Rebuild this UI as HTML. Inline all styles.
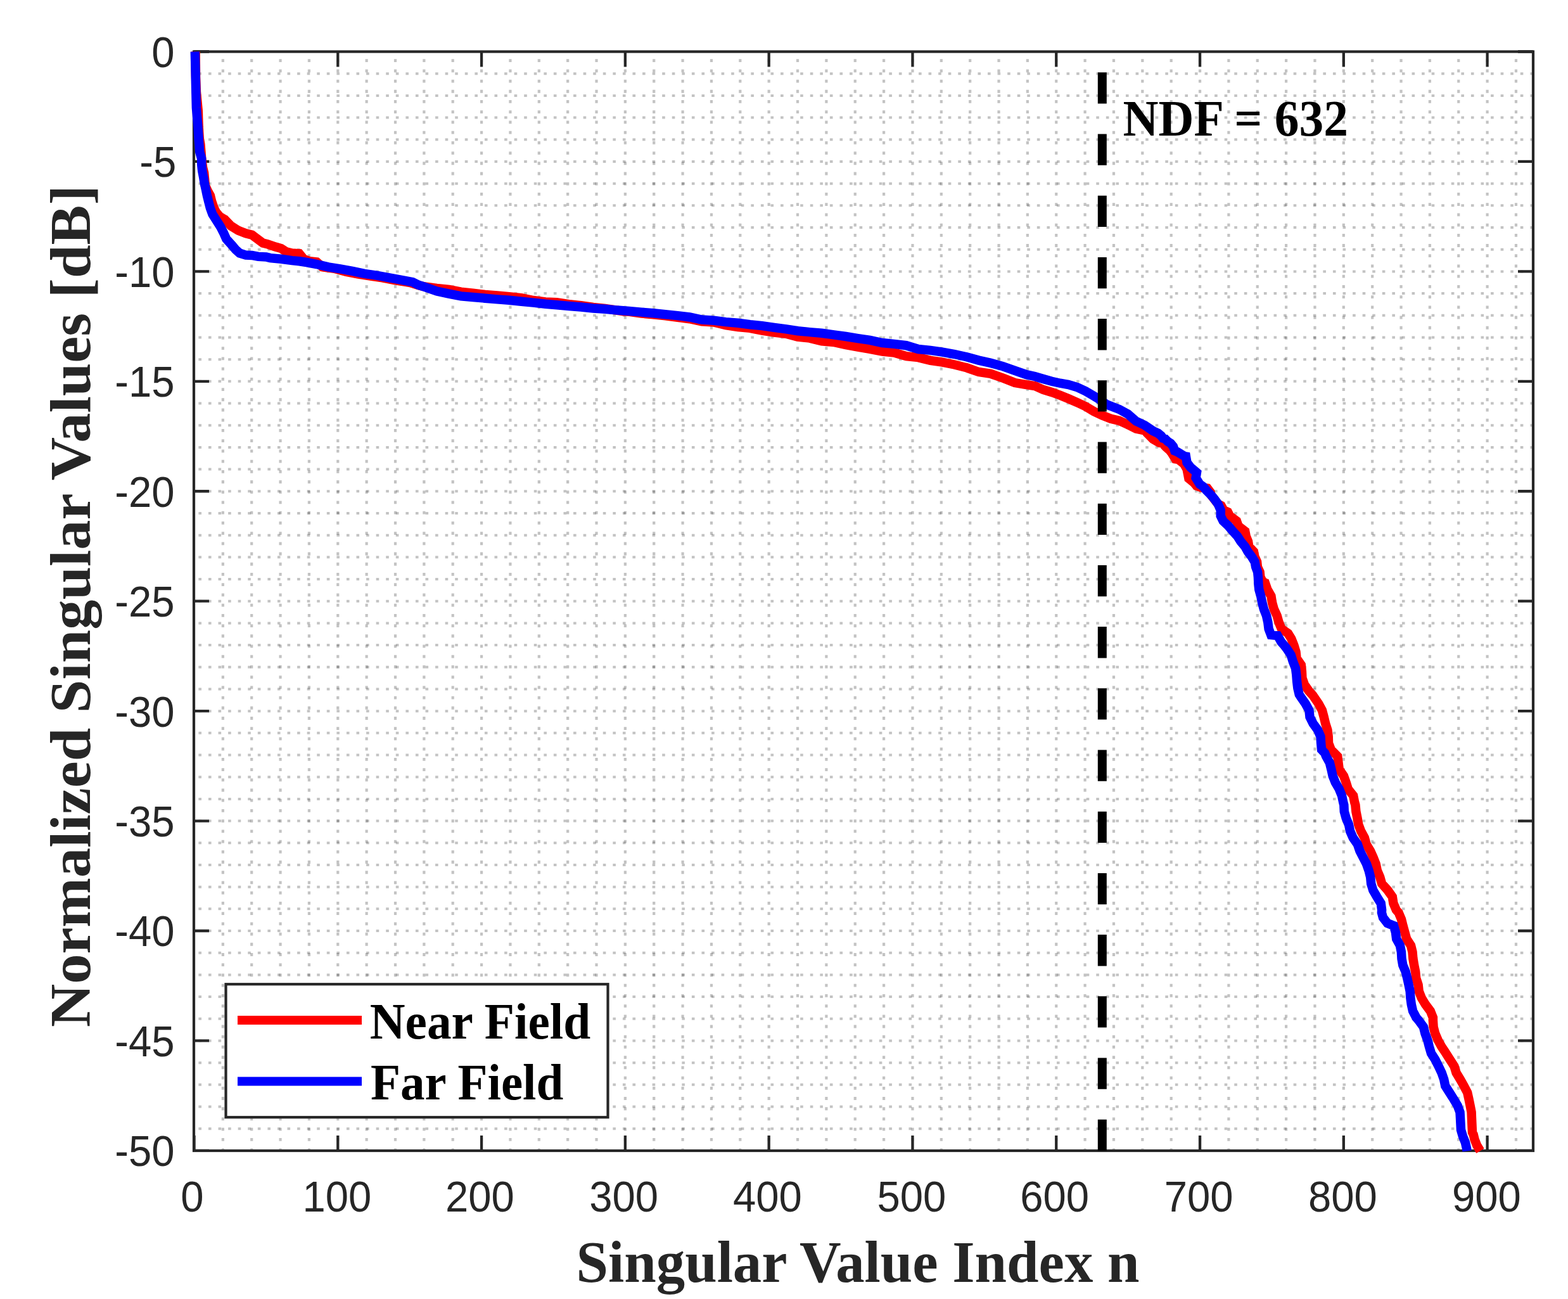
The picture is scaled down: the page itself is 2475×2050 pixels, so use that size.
<!DOCTYPE html>
<html><head><meta charset="utf-8"><title>Singular values</title>
<style>html,body{margin:0;padding:0;background:#fff;}svg{display:block;}</style>
</head><body>
<svg width="2475" height="2050" viewBox="0 0 2475 2050">
<rect x="0" y="0" width="2475" height="2050" fill="#fff"/>
<path d="M351.86 1816.0V81.5M397.22 1816.0V81.5M442.57 1816.0V81.5M487.93 1816.0V81.5M533.29 1816.0V81.5M578.65 1816.0V81.5M624.01 1816.0V81.5M669.36 1816.0V81.5M714.72 1816.0V81.5M760.08 1816.0V81.5M805.44 1816.0V81.5M850.80 1816.0V81.5M896.15 1816.0V81.5M941.51 1816.0V81.5M986.87 1816.0V81.5M1032.23 1816.0V81.5M1077.59 1816.0V81.5M1122.94 1816.0V81.5M1168.30 1816.0V81.5M1213.66 1816.0V81.5M1259.02 1816.0V81.5M1304.38 1816.0V81.5M1349.73 1816.0V81.5M1395.09 1816.0V81.5M1440.45 1816.0V81.5M1485.81 1816.0V81.5M1531.17 1816.0V81.5M1576.52 1816.0V81.5M1621.88 1816.0V81.5M1667.24 1816.0V81.5M1712.60 1816.0V81.5M1757.96 1816.0V81.5M1803.31 1816.0V81.5M1848.67 1816.0V81.5M1894.03 1816.0V81.5M1939.39 1816.0V81.5M1984.75 1816.0V81.5M2030.10 1816.0V81.5M2075.46 1816.0V81.5M2120.82 1816.0V81.5M2166.18 1816.0V81.5M2211.54 1816.0V81.5M2256.89 1816.0V81.5M2302.25 1816.0V81.5M2347.61 1816.0V81.5M2392.97 1816.0V81.5" stroke="rgba(38,38,38,0.28)" stroke-width="4.2" stroke-dasharray="4.8 11.417" stroke-dashoffset="1.0" fill="none"/>
<path d="M306.0 116.19H2420.0M306.0 150.88H2420.0M306.0 185.56H2420.0M306.0 220.25H2420.0M306.0 254.94H2420.0M306.0 289.63H2420.0M306.0 324.32H2420.0M306.0 359.00H2420.0M306.0 393.69H2420.0M306.0 428.38H2420.0M306.0 463.07H2420.0M306.0 497.76H2420.0M306.0 532.44H2420.0M306.0 567.13H2420.0M306.0 601.82H2420.0M306.0 636.51H2420.0M306.0 671.20H2420.0M306.0 705.88H2420.0M306.0 740.57H2420.0M306.0 775.26H2420.0M306.0 809.95H2420.0M306.0 844.64H2420.0M306.0 879.32H2420.0M306.0 914.01H2420.0M306.0 948.70H2420.0M306.0 983.39H2420.0M306.0 1018.08H2420.0M306.0 1052.76H2420.0M306.0 1087.45H2420.0M306.0 1122.14H2420.0M306.0 1156.83H2420.0M306.0 1191.52H2420.0M306.0 1226.20H2420.0M306.0 1260.89H2420.0M306.0 1295.58H2420.0M306.0 1330.27H2420.0M306.0 1364.96H2420.0M306.0 1399.64H2420.0M306.0 1434.33H2420.0M306.0 1469.02H2420.0M306.0 1503.71H2420.0M306.0 1538.40H2420.0M306.0 1573.08H2420.0M306.0 1607.77H2420.0M306.0 1642.46H2420.0M306.0 1677.15H2420.0M306.0 1711.84H2420.0M306.0 1746.52H2420.0M306.0 1781.21H2420.0" stroke="rgba(38,38,38,0.28)" stroke-width="4.0" stroke-dasharray="4.6 10.97" stroke-dashoffset="8.17" fill="none"/>
<rect x="306.0" y="81.5" width="2114.0" height="1734.5" fill="none" stroke="#262626" stroke-width="4.2"/>
<path d="M306.50 1816.0V1792.0M306.50 81.5V105.5M533.29 1816.0V1792.0M533.29 81.5V105.5M760.08 1816.0V1792.0M760.08 81.5V105.5M986.87 1816.0V1792.0M986.87 81.5V105.5M1213.66 1816.0V1792.0M1213.66 81.5V105.5M1440.45 1816.0V1792.0M1440.45 81.5V105.5M1667.24 1816.0V1792.0M1667.24 81.5V105.5M1894.03 1816.0V1792.0M1894.03 81.5V105.5M2120.82 1816.0V1792.0M2120.82 81.5V105.5M2347.61 1816.0V1792.0M2347.61 81.5V105.5M306.0 81.50H330.0M2420.0 81.50H2396.0M306.0 254.94H330.0M2420.0 254.94H2396.0M306.0 428.38H330.0M2420.0 428.38H2396.0M306.0 601.82H330.0M2420.0 601.82H2396.0M306.0 775.26H330.0M2420.0 775.26H2396.0M306.0 948.70H330.0M2420.0 948.70H2396.0M306.0 1122.14H330.0M2420.0 1122.14H2396.0M306.0 1295.58H330.0M2420.0 1295.58H2396.0M306.0 1469.02H330.0M2420.0 1469.02H2396.0M306.0 1642.46H330.0M2420.0 1642.46H2396.0M306.0 1815.90H330.0M2420.0 1815.90H2396.0" stroke="#262626" stroke-width="4.3" fill="none"/>
<path d="M308.6 81.5 L309.0 120.0 L309.9 145.0 L312.8 175.0 L313.6 200.0 L314.8 219.0 L316.4 228.0 L317.4 240.0 L318.2 250.0 L320.1 264.7 L322.1 272.5 L324.0 293.0 L327.5 300.8 L331.9 308.6 L334.3 318.4 L337.7 328.2 L341.1 335.0 L347.0 342.0 L354.7 346.3 L364.5 356.5 L376.2 363.8 L388.0 368.2 L397.7 370.7 L407.5 378.0 L415.0 383.5 L421.9 385.2 L431.1 388.3 L435.7 389.8 L443.8 392.1 L451.8 397.3 L461.0 399.6 L472.5 400.2 L479.4 408.8 L488.6 412.3 L500.0 413.4 L508.6 421.2 L527.6 423.7 L546.7 428.9 L565.7 432.7 L584.8 435.5 L603.8 438.4 L622.9 442.2 L641.9 445.0 L647.6 446.0 L661.0 450.2 L670.5 452.5 L689.5 455.0 L708.6 456.9 L727.6 460.7 L746.7 462.6 L765.7 465.0 L784.8 466.4 L803.8 468.3 L822.9 470.2 L841.9 474.0 L861.0 476.5 L879.0 477.3 L898.1 480.2 L917.1 482.1 L936.2 485.0 L955.2 486.9 L983.8 491.2 L993.3 491.8 L1012.4 494.5 L1031.4 496.4 L1050.5 498.3 L1069.5 500.8 L1088.6 503.2 L1107.6 507.4 L1126.7 508.4 L1145.7 513.1 L1164.8 516.0 L1183.8 517.9 L1202.9 521.7 L1221.9 524.6 L1241.0 526.8 L1259.0 531.7 L1278.1 533.6 L1297.1 538.4 L1316.2 539.9 L1335.2 544.1 L1354.3 547.5 L1373.3 550.8 L1392.4 554.6 L1411.4 556.5 L1430.5 562.2 L1449.5 564.1 L1468.6 568.9 L1487.6 571.7 L1506.7 575.5 L1525.7 580.3 L1544.8 587.0 L1563.8 589.8 L1582.9 596.5 L1601.9 604.1 L1620.0 607.2 L1633.3 609.0 L1646.7 615.0 L1660.0 619.0 L1673.3 623.7 L1686.7 629.3 L1700.0 635.0 L1713.3 641.3 L1726.7 649.3 L1740.0 655.6 L1753.3 660.7 L1766.7 664.0 L1780.0 670.0 L1793.3 676.7 L1806.7 679.5 L1820.0 693.0 L1829.7 698.6 L1834.9 699.5 L1840.5 705.6 L1846.1 710.4 L1849.3 714.4 L1855.4 724.4 L1860.3 725.2 L1867.0 730.5 L1869.4 732.9 L1873.5 740.2 L1876.4 755.0 L1879.9 757.9 L1884.7 761.9 L1888.8 766.8 L1896.5 769.5 L1905.8 770.6 L1910.7 777.1 L1911.5 781.1 L1922.7 795.6 L1927.6 798.0 L1931.6 805.2 L1938.0 808.0 L1941.1 814.2 L1951.9 822.2 L1954.7 830.3 L1965.2 838.3 L1966.8 846.4 L1970.0 854.4 L1971.3 862.5 L1978.9 870.5 L1980.5 878.6 L1984.1 886.6 L1984.9 894.7 L1988.6 902.7 L1989.4 910.8 L1993.4 918.8 L1996.9 920.0 L2000.5 930.3 L2006.4 940.7 L2008.0 951.0 L2010.9 961.4 L2015.7 971.7 L2018.6 982.1 L2022.8 992.4 L2033.1 999.7 L2038.3 1008.0 L2042.4 1018.3 L2045.5 1028.6 L2046.6 1039.0 L2053.8 1049.3 L2054.9 1059.7 L2055.4 1070.0 L2059.0 1080.4 L2066.2 1090.7 L2072.0 1097.0 L2081.4 1110.7 L2086.9 1121.0 L2089.7 1131.4 L2092.1 1141.7 L2095.4 1152.1 L2096.7 1162.4 L2097.0 1172.8 L2100.9 1183.1 L2111.2 1193.5 L2112.5 1203.8 L2113.8 1214.2 L2121.0 1224.5 L2124.7 1234.9 L2127.8 1245.2 L2136.1 1255.6 L2138.1 1265.9 L2139.4 1270.3 L2140.4 1280.7 L2142.5 1291.0 L2144.3 1301.4 L2148.2 1311.7 L2153.8 1322.1 L2156.7 1332.4 L2163.0 1342.8 L2167.6 1353.1 L2171.7 1363.5 L2173.8 1373.8 L2178.2 1384.2 L2181.1 1394.5 L2190.4 1404.9 L2197.8 1415.2 L2199.4 1425.6 L2203.8 1435.9 L2207.6 1440.3 L2212.0 1450.7 L2214.5 1461.0 L2217.4 1471.4 L2220.2 1481.7 L2227.0 1492.1 L2229.5 1502.4 L2230.4 1512.8 L2232.1 1523.1 L2234.2 1533.5 L2235.2 1543.8 L2238.6 1554.2 L2239.7 1564.5 L2243.8 1574.9 L2250.0 1585.2 L2257.8 1595.6 L2261.9 1605.9 L2261.9 1610.3 L2262.6 1620.7 L2265.2 1631.0 L2269.7 1641.4 L2275.4 1651.7 L2282.3 1662.1 L2288.8 1672.4 L2295.5 1682.8 L2298.6 1693.1 L2304.9 1703.5 L2310.7 1713.8 L2316.2 1724.2 L2318.5 1734.5 L2320.6 1744.9 L2322.6 1755.2 L2322.9 1763.0 L2324.0 1787.0 L2325.7 1790.5 L2327.5 1798.0 L2331.2 1807.6 L2336.5 1816.2" stroke="#f00" stroke-width="14.5" fill="none" stroke-linejoin="miter" stroke-linecap="butt"/>
<path d="M307.8 81.5 L308.3 100.0 L308.8 125.0 L309.9 170.0 L312.4 200.0 L313.8 221.0 L315.3 240.0 L318.1 250.0 L318.2 259.8 L319.2 269.5 L321.1 279.3 L322.7 289.1 L324.9 298.9 L326.9 308.6 L329.3 318.4 L331.8 328.2 L335.4 338.0 L341.5 347.7 L347.8 357.5 L352.9 367.3 L357.2 377.0 L366.0 386.8 L372.0 394.0 L378.2 399.5 L388.0 402.6 L397.7 402.9 L407.5 404.9 L420.0 405.4 L426.5 407.1 L443.8 408.8 L461.0 411.1 L472.5 412.3 L484.0 414.0 L500.0 417.0 L518.1 421.4 L537.1 424.3 L556.2 427.8 L575.2 431.9 L594.3 434.6 L613.3 438.1 L632.4 441.6 L651.4 445.2 L661.0 449.9 L670.5 452.9 L689.5 459.5 L708.6 463.6 L727.6 467.4 L746.7 469.0 L765.7 470.7 L784.8 472.4 L803.8 473.8 L822.9 475.7 L841.9 477.6 L861.0 479.7 L879.0 481.2 L898.1 483.0 L917.1 484.5 L936.2 486.4 L955.2 487.7 L974.3 489.6 L993.3 491.0 L1012.4 492.6 L1031.4 494.3 L1050.5 496.2 L1069.5 498.1 L1088.6 500.5 L1107.6 504.6 L1126.7 505.7 L1145.7 508.1 L1164.8 509.7 L1183.8 512.2 L1202.9 514.1 L1221.9 516.9 L1241.0 519.4 L1259.0 522.2 L1278.1 524.1 L1297.1 525.7 L1316.2 528.4 L1335.2 531.0 L1354.3 534.1 L1373.3 536.9 L1392.4 541.0 L1411.4 542.9 L1430.5 545.2 L1449.5 551.0 L1468.6 552.9 L1487.6 555.7 L1506.7 559.0 L1525.7 563.3 L1544.8 568.6 L1563.8 572.9 L1582.9 578.1 L1601.9 584.8 L1620.0 591.2 L1633.3 594.0 L1646.7 598.0 L1660.0 601.7 L1673.3 604.7 L1686.7 607.0 L1700.0 611.0 L1713.3 617.3 L1726.7 625.0 L1733.3 629.0 L1746.7 638.3 L1766.7 646.0 L1780.0 653.3 L1793.3 664.7 L1806.7 671.0 L1820.0 680.1 L1828.0 683.8 L1832.9 687.8 L1835.8 691.7 L1839.0 692.5 L1843.0 696.6 L1847.9 699.8 L1851.9 704.6 L1854.2 711.4 L1858.2 713.0 L1864.7 717.0 L1870.3 720.2 L1871.9 720.4 L1873.5 730.0 L1879.3 737.6 L1884.1 741.6 L1888.9 745.7 L1887.6 754.2 L1893.8 764.2 L1899.4 768.2 L1904.2 773.8 L1911.5 781.1 L1916.6 787.2 L1922.7 795.6 L1926.8 805.2 L1926.7 814.2 L1930.6 822.2 L1939.2 830.3 L1945.9 838.3 L1953.3 846.4 L1958.4 854.4 L1965.2 862.5 L1969.6 870.5 L1975.8 878.6 L1980.7 886.6 L1982.1 894.7 L1985.1 902.7 L1985.9 910.8 L1986.3 918.8 L1986.2 920.0 L1987.3 930.3 L1990.2 940.7 L1992.2 951.0 L1995.0 961.4 L1999.0 971.7 L2001.3 982.1 L2002.6 992.4 L2006.2 1002.0 L2016.6 1003.0 L2022.3 1013.1 L2026.9 1018.3 L2031.0 1023.5 L2037.8 1033.8 L2040.9 1044.2 L2045.0 1054.5 L2046.3 1064.9 L2047.1 1075.2 L2048.3 1085.6 L2050.7 1095.9 L2053.5 1100.3 L2060.7 1110.7 L2066.4 1121.0 L2067.5 1131.4 L2072.6 1141.7 L2080.2 1152.1 L2084.5 1162.4 L2085.1 1172.8 L2086.1 1183.1 L2091.0 1188.3 L2093.1 1193.5 L2098.8 1203.8 L2101.4 1214.2 L2103.7 1224.5 L2107.8 1234.9 L2113.8 1245.2 L2118.0 1255.6 L2120.2 1265.9 L2121.3 1270.3 L2121.8 1280.7 L2124.7 1291.0 L2129.0 1301.4 L2131.1 1311.7 L2135.7 1322.1 L2142.8 1332.4 L2146.4 1342.8 L2151.6 1353.1 L2157.0 1363.5 L2160.6 1373.8 L2163.2 1384.2 L2164.2 1394.5 L2167.3 1404.9 L2173.3 1415.2 L2179.7 1425.6 L2181.1 1435.9 L2180.9 1440.3 L2183.0 1448.0 L2190.0 1457.0 L2200.0 1461.0 L2202.9 1471.4 L2204.2 1481.7 L2209.9 1492.1 L2211.9 1502.4 L2212.5 1512.8 L2214.3 1523.1 L2218.7 1533.5 L2221.3 1543.8 L2223.6 1554.2 L2225.7 1564.5 L2226.4 1574.9 L2227.8 1585.2 L2230.1 1595.6 L2235.5 1605.9 L2239.3 1610.3 L2246.9 1620.7 L2249.5 1631.0 L2253.3 1641.4 L2255.9 1651.7 L2259.0 1662.1 L2265.5 1672.4 L2270.7 1682.8 L2275.6 1693.1 L2279.2 1703.5 L2281.3 1713.8 L2288.0 1724.2 L2294.5 1734.5 L2300.7 1744.9 L2304.5 1755.2 L2305.0 1764.0 L2306.0 1783.0 L2309.0 1793.3 L2312.9 1802.9 L2315.0 1812.4 L2315.6 1816.5" stroke="#00f" stroke-width="14.5" fill="none" stroke-linejoin="miter" stroke-linecap="butt"/>

<path d="M1739.81 1816.0V81.5" stroke="#000" stroke-width="14" stroke-dasharray="49.3 47.9" fill="none"/>
<text transform="translate(303.30,1911.5) scale(1,1.062)" text-anchor="middle" style="font-family:'Liberation Sans',Arial,sans-serif;font-size:65.2px" fill="#262626">0</text>
<text transform="translate(531.99,1911.5) scale(1,1.062)" text-anchor="middle" style="font-family:'Liberation Sans',Arial,sans-serif;font-size:65.2px" fill="#262626">100</text>
<text transform="translate(757.38,1911.5) scale(1,1.062)" text-anchor="middle" style="font-family:'Liberation Sans',Arial,sans-serif;font-size:65.2px" fill="#262626">200</text>
<text transform="translate(984.57,1911.5) scale(1,1.062)" text-anchor="middle" style="font-family:'Liberation Sans',Arial,sans-serif;font-size:65.2px" fill="#262626">300</text>
<text transform="translate(1211.46,1911.5) scale(1,1.062)" text-anchor="middle" style="font-family:'Liberation Sans',Arial,sans-serif;font-size:65.2px" fill="#262626">400</text>
<text transform="translate(1438.85,1911.5) scale(1,1.062)" text-anchor="middle" style="font-family:'Liberation Sans',Arial,sans-serif;font-size:65.2px" fill="#262626">500</text>
<text transform="translate(1664.64,1911.5) scale(1,1.062)" text-anchor="middle" style="font-family:'Liberation Sans',Arial,sans-serif;font-size:65.2px" fill="#262626">600</text>
<text transform="translate(1892.13,1911.5) scale(1,1.062)" text-anchor="middle" style="font-family:'Liberation Sans',Arial,sans-serif;font-size:65.2px" fill="#262626">700</text>
<text transform="translate(2119.42,1911.5) scale(1,1.062)" text-anchor="middle" style="font-family:'Liberation Sans',Arial,sans-serif;font-size:65.2px" fill="#262626">800</text>
<text transform="translate(2346.41,1911.5) scale(1,1.062)" text-anchor="middle" style="font-family:'Liberation Sans',Arial,sans-serif;font-size:65.2px" fill="#262626">900</text>
<text transform="translate(275.6,105.90) scale(1,1.062)" text-anchor="end" style="font-family:'Liberation Sans',Arial,sans-serif;font-size:65.2px" fill="#262626">0</text>
<text transform="translate(278.3,279.34) scale(1,1.062)" text-anchor="end" style="font-family:'Liberation Sans',Arial,sans-serif;font-size:65.2px" fill="#262626">-5</text>
<text transform="translate(275.6,452.78) scale(1,1.062)" text-anchor="end" style="font-family:'Liberation Sans',Arial,sans-serif;font-size:65.2px" fill="#262626">-10</text>
<text transform="translate(275.6,626.22) scale(1,1.062)" text-anchor="end" style="font-family:'Liberation Sans',Arial,sans-serif;font-size:65.2px" fill="#262626">-15</text>
<text transform="translate(275.6,799.66) scale(1,1.062)" text-anchor="end" style="font-family:'Liberation Sans',Arial,sans-serif;font-size:65.2px" fill="#262626">-20</text>
<text transform="translate(275.6,973.10) scale(1,1.062)" text-anchor="end" style="font-family:'Liberation Sans',Arial,sans-serif;font-size:65.2px" fill="#262626">-25</text>
<text transform="translate(275.6,1146.54) scale(1,1.062)" text-anchor="end" style="font-family:'Liberation Sans',Arial,sans-serif;font-size:65.2px" fill="#262626">-30</text>
<text transform="translate(275.6,1319.98) scale(1,1.062)" text-anchor="end" style="font-family:'Liberation Sans',Arial,sans-serif;font-size:65.2px" fill="#262626">-35</text>
<text transform="translate(275.6,1493.42) scale(1,1.062)" text-anchor="end" style="font-family:'Liberation Sans',Arial,sans-serif;font-size:65.2px" fill="#262626">-40</text>
<text transform="translate(275.6,1666.86) scale(1,1.062)" text-anchor="end" style="font-family:'Liberation Sans',Arial,sans-serif;font-size:65.2px" fill="#262626">-45</text>
<text transform="translate(275.6,1840.30) scale(1,1.062)" text-anchor="end" style="font-family:'Liberation Sans',Arial,sans-serif;font-size:65.2px" fill="#262626">-50</text>
<text transform="translate(1354,2022.5) scale(1,1.03)" text-anchor="middle" style="font-family:'Liberation Serif','Times New Roman',serif;font-weight:bold;font-size:90.8px" fill="#262626">Singular Value Index n</text>
<text transform="translate(142,956.5) rotate(-90) scale(1,0.97)" text-anchor="middle" style="font-family:'Liberation Serif','Times New Roman',serif;font-weight:bold;font-size:94.5px" fill="#262626">Normalized Singular Values [dB]</text>
<text transform="translate(1772.6,213.9) scale(1,1.045)" style="font-family:'Liberation Serif','Times New Roman',serif;font-weight:bold;font-size:77.5px" fill="#000">NDF = 632</text>
<rect x="356.5" y="1553.2" width="603" height="210" fill="#fff" stroke="#262626" stroke-width="4.2"/>
<path d="M375 1610H571" stroke="#f00" stroke-width="14" fill="none"/>
<path d="M375 1706.5H571" stroke="#00f" stroke-width="14" fill="none"/>
<text transform="translate(583.8,1639.1) scale(1,1.045)" style="font-family:'Liberation Serif','Times New Roman',serif;font-weight:bold;font-size:77.3px" fill="#000">Near Field</text>
<text transform="translate(584.9,1734.8) scale(1,1.045)" style="font-family:'Liberation Serif','Times New Roman',serif;font-weight:bold;font-size:77px" fill="#000">Far Field</text>
</svg>
</body></html>
